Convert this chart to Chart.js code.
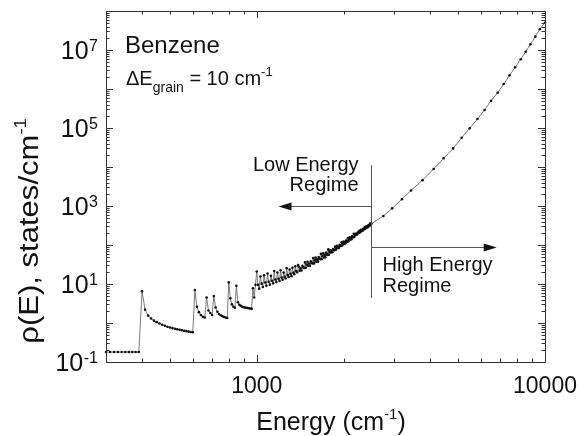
<!DOCTYPE html>
<html>
<head>
<meta charset="utf-8">
<script src="https://cdn.jsdelivr.net/npm/chart.js@4.4.0/dist/chart.umd.min.js"></script>
<style>
  html, body { margin: 0; padding: 0; background: #fff; }
  #wrap { width: 583px; height: 436px; }
</style>
</head>
<body>
<div id="wrap"><canvas id="dosChart"></canvas></div>
<script>
// Benzene density of states, low energy regime (10 cm-1 grains)
const grainEnergy = [
  300, 310, 320, 330, 340, 350, 360, 370, 380, 390,
  400, 410, 420, 430, 440, 450, 460, 470, 480, 490,
  500, 510, 520, 530, 540, 550, 560, 570, 580, 590,
  600, 610, 620, 630, 640, 650, 660, 670, 680, 690,
  700, 710, 720, 730, 740, 750, 760, 770, 780, 790,
  800, 810, 820, 830, 840, 850, 860, 870, 880, 890,
  900, 910, 920, 930, 940, 950, 960, 970, 980, 990,
  1000, 1010, 1020, 1030, 1040, 1050, 1060, 1070, 1080, 1090,
  1100, 1110, 1120, 1130, 1140, 1150, 1160, 1170, 1180, 1190,
  1200, 1210, 1220, 1230, 1240, 1250, 1260, 1270, 1280, 1290,
  1300, 1310, 1320, 1330, 1340, 1350, 1360, 1370, 1380, 1390,
  1400, 1410, 1420, 1430, 1440, 1450, 1460, 1470, 1480, 1490,
  1500, 1510, 1520, 1530, 1540, 1550, 1560, 1570, 1580, 1590,
  1600, 1610, 1620, 1630, 1640, 1650, 1660, 1670, 1680, 1690,
  1700, 1710, 1720, 1730, 1740, 1750, 1760, 1770, 1780, 1790,
  1800, 1810, 1820, 1830, 1840, 1850, 1860, 1870, 1880, 1890,
  1900, 1910, 1920, 1930, 1940, 1950, 1960, 1970, 1980, 1990,
  2000, 2010, 2020, 2030, 2040, 2050, 2060, 2070, 2080, 2090,
  2100, 2110, 2120, 2130, 2140, 2150, 2160, 2170, 2180, 2190,
  2200, 2210, 2220, 2230, 2240, 2250, 2260, 2270, 2280, 2290,
  2300, 2310, 2320, 2330, 2340, 2350, 2360, 2370, 2380, 2390,
  2400, 2410, 2420, 2430, 2440, 2450, 2460, 2470, 2480, 2490
];
const grainDensity = [
  0.18, 0.18, 0.18, 0.18, 0.18, 0.18, 0.18, 0.18, 0.18, 0.18,
  6.5, 2.2, 1.55, 1.3, 1.15, 1.05, 0.97, 0.9, 0.85, 0.8,
  0.77, 0.74, 0.71, 0.69, 0.67, 0.65, 0.63, 0.62, 0.6, 0.59,
  0.58, 7.0, 2.6, 1.9, 1.6, 1.45, 1.38, 4.5, 2.1, 1.8,
  1.6, 4.9, 2.5, 1.95, 1.7, 1.58, 1.5, 1.43, 1.38, 1.34,
  11, 4.3, 3.0, 2.6, 2.45, 9.0, 3.4, 2.95, 2.75, 2.62,
  2.55, 2.5, 2.45, 2.42, 2.38, 2.35, 2.3, 7.8, 4.5, 9.5,
  21, 9.5, 7.6, 15.5, 10.2, 8.4, 16.8, 10.9, 9.0, 18.6,
  11.4, 9.6, 16.2, 12.1, 10.4, 21.5, 13.0, 11.2, 19.8, 13.6,
  12.0, 22.5, 14.6, 12.9, 19.6, 15.2, 13.8, 25.5, 16.9, 15.1,
  23.5, 18.2, 15.9, 26.0, 19.4, 17.8, 28.5, 21.6, 20.1, 30.5,
  28.2, 22.0, 25.4, 22.2, 29.4, 26.9, 25.8, 35.8, 26.1, 31.5,
  37.2, 28.9, 33.3, 29.0, 38.4, 35.1, 33.6, 46.5, 33.7, 40.6,
  47.9, 37.2, 42.9, 37.4, 49.4, 45.2, 43.3, 59.8, 43.4, 52.4,
  61.7, 48.0, 55.2, 48.2, 63.7, 58.2, 55.7, 77.1, 56.0, 67.5,
  73.8, 64.1, 70.5, 65.6, 78.3, 75.0, 73.8, 90.6, 75.5, 85.3,
  95.1, 82.6, 90.8, 84.5, 101, 96.6, 95.1, 117, 97.3, 110,
  122, 106, 117, 109, 130, 124, 122, 150, 125, 142,
  158, 137, 151, 140, 167, 160, 158, 194, 161, 182,
  194, 180, 192, 186, 208, 204, 204, 232, 210, 228,
  244, 226, 241, 232, 259, 254, 253, 287, 260, 281,
  301, 279, 296, 286, 319, 313, 312, 353, 320, 345
];
// High energy regime
const highEnergy = [2500, 2750, 2950, 3190, 3430, 3760, 4110, 4450, 4800, 5140, 5480, 5830,
  6170, 6500, 6850, 7190, 7540, 7880, 8240, 8570, 8900, 9260, 9590, 10000];
const highDensity = [350, 555, 870, 1500, 2500, 4600, 8900, 16700, 30000, 56000, 98000, 170000,
  290000, 500000, 800000, 1340000, 2240000, 3600000, 5800000, 9000000, 14000000, 22000000, 34000000, 50000000];

const xTickLabels = [1000, 10000];
const yTickExponents = ['-1', '1', '3', '5', '7'];

const FONT = '"Liberation Sans", Arial, Helvetica, sans-serif';

const points = [];
grainEnergy.forEach((e, i) => points.push({ x: e, y: grainDensity[i] }));
highEnergy.forEach((e, i) => points.push({ x: e, y: highDensity[i] }));

// draws text pieces in a row, some raised or lowered
function textWithSup(ctx, parts, x, y, align) {
  let total = 0;
  parts.forEach(p => { ctx.font = p.size + 'px ' + FONT; p.w = ctx.measureText(p.t).width; total += p.w; });
  let cx = align === 'center' ? x - total / 2 : (align === 'right' ? x - total : x);
  ctx.textAlign = 'left';
  ctx.textBaseline = 'alphabetic';
  parts.forEach(p => {
    ctx.font = p.size + 'px ' + FONT;
    ctx.fillText(p.t, cx, y + (p.dy || 0));
    cx += p.w;
  });
}

const axesPlugin = {
  id: 'axesPlugin',
  afterDatasetsDraw(chart) {
    const ctx = chart.ctx;
    const xs = chart.scales.x, ys = chart.scales.y;
    const a = chart.chartArea;
    ctx.save();

    // regime annotations
    ctx.strokeStyle = '#555';
    ctx.fillStyle = '#111';
    ctx.lineWidth = 1;
    const bx = Math.round(xs.getPixelForValue(2500)) + 0.5;
    ctx.beginPath();
    ctx.moveTo(bx, ys.getPixelForValue(11000));
    ctx.lineTo(bx, ys.getPixelForValue(4.4));
    ctx.stroke();
    const ly = Math.round(ys.getPixelForValue(1000)) + 0.5;
    const lTip = xs.getPixelForValue(1190);
    ctx.beginPath();
    ctx.moveTo(bx, ly);
    ctx.lineTo(lTip + 10, ly);
    ctx.stroke();
    ctx.beginPath();
    ctx.moveTo(lTip, ly);
    ctx.lineTo(lTip + 13, ly - 4);
    ctx.lineTo(lTip + 13, ly + 4);
    ctx.closePath();
    ctx.fill();
    const ry = Math.round(ys.getPixelForValue(90)) + 0.5;
    const rTip = xs.getPixelForValue(6800);
    ctx.beginPath();
    ctx.moveTo(bx, ry);
    ctx.lineTo(rTip - 10, ry);
    ctx.stroke();
    ctx.beginPath();
    ctx.moveTo(rTip, ry);
    ctx.lineTo(rTip - 13, ry - 4);
    ctx.lineTo(rTip - 13, ry + 4);
    ctx.closePath();
    ctx.fill();

    ctx.font = '20px ' + FONT;
    ctx.textAlign = 'right';
    ctx.fillText('Low Energy', bx - 13, 171);
    ctx.fillText('Regime', bx - 13, 191);
    ctx.textAlign = 'left';
    ctx.fillText('High Energy', bx + 11, 271);
    ctx.fillText('Regime', bx + 11, 292);

    // molecule label
    ctx.font = '24px ' + FONT;
    ctx.fillText('Benzene', 125, 53);
    textWithSup(ctx, [
      { t: '\u0394E', size: 20 },
      { t: 'grain', size: 14, dy: 7 },
      { t: ' = 10 cm', size: 20 },
      { t: '-1', size: 13, dy: -9 }
    ], 126, 85, 'left');

    // frame
    ctx.strokeStyle = '#333';
    ctx.lineWidth = 1;
    ctx.strokeRect(a.left + 0.5, a.top + 0.5, a.right - a.left, a.bottom - a.top);

    // y ticks, both sides
    ctx.beginPath();
    for (let e = -1; e <= 7; e++) {
      for (let k = 1; k <= 9; k++) {
        const v = k * Math.pow(10, e);
        if (v < ys.min || v > ys.max) continue;
        const py = Math.round(ys.getPixelForValue(v)) + 0.5;
        const len = k === 1 ? 7 : 3.5;
        ctx.moveTo(a.left, py); ctx.lineTo(a.left + len, py);
        ctx.moveTo(a.right, py); ctx.lineTo(a.right - len, py);
      }
    }
    // x ticks, top and bottom
    for (let e = 2; e <= 4; e++) {
      for (let k = 1; k <= 9; k++) {
        const v = k * Math.pow(10, e);
        if (v <= xs.min || v > xs.max) continue;
        const px = Math.round(xs.getPixelForValue(v)) + 0.5;
        const len = k === 1 ? 7 : 3.5;
        ctx.moveTo(px, a.bottom); ctx.lineTo(px, a.bottom - len);
        ctx.moveTo(px, a.top); ctx.lineTo(px, a.top + len);
      }
    }
    ctx.stroke();

    // tick labels
    ctx.fillStyle = '#111';
    yTickExponents.forEach(exp => {
      const py = ys.getPixelForValue(Math.pow(10, Number(exp)));
      ctx.font = '16px ' + FONT;
      const sw = ctx.measureText(exp).width;
      ctx.textAlign = 'right';
      ctx.fillText(exp, 98, py + 1);
      ctx.font = '25px ' + FONT;
      ctx.fillText('10', 98 - sw - 0.5, py + 9);
    });
    ctx.font = '23px ' + FONT;
    ctx.textAlign = 'center';
    xTickLabels.forEach(v => {
      ctx.fillText(String(v), xs.getPixelForValue(v), 393);
    });

    // axis titles
    textWithSup(ctx, [
      { t: 'Energy (cm', size: 25 },
      { t: '-1', size: 15, dy: -11 },
      { t: ')', size: 25 }
    ], 331, 430, 'center');

    ctx.translate(38, 231);
    ctx.rotate(-Math.PI / 2);
    ctx.scale(1.15, 1);
    textWithSup(ctx, [
      { t: '\u03C1(E), states/cm', size: 27 },
      { t: '-1', size: 16, dy: -12 }
    ], 0, 0, 'center');

    ctx.restore();
  }
};

new Chart(document.getElementById('dosChart'), {
  type: 'line',
  data: {
    datasets: [{
      label: 'rho(E)',
      data: points,
      borderColor: '#6b6b6b',
      borderWidth: 0.9,
      pointRadius: 1.3,
      pointBackgroundColor: '#111',
      pointBorderWidth: 0,
      tension: 0,
      clip: 3
    }]
  },
  options: {
    responsive: true,
    maintainAspectRatio: false,
    animation: false,
    layout: { padding: { left: 106, right: 38, top: 11, bottom: 74 } },
    plugins: { legend: { display: false }, tooltip: { enabled: false } },
    scales: {
      x: { type: 'logarithmic', min: 300, max: 10000, display: false },
      y: { type: 'logarithmic', min: 0.1, max: 1e8, display: false }
    }
  },
  plugins: [axesPlugin]
});
</script>
</body>
</html>
